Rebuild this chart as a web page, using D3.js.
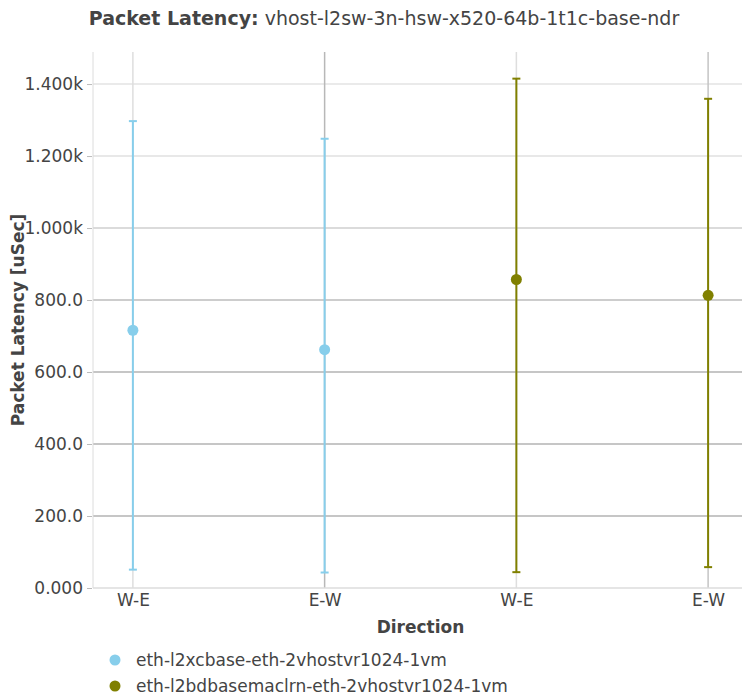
<!DOCTYPE html>
<html>
<head>
<meta charset="utf-8">
<script src="https://cdn.jsdelivr.net/npm/d3@7"></script>
<style>
  body { margin: 0; background: #fff; }
  svg { display: block; font-family: "DejaVu Sans", sans-serif; }
</style>
</head>
<body>
<svg id="chart" width="742" height="700"></svg>
<script>
// ---- data ----
const categories = ["W-E", "E-W", "W-E", "E-W"];
const seriesNames = ["eth-l2xcbase-eth-2vhostvr1024-1vm", "eth-l2bdbasemaclrn-eth-2vhostvr1024-1vm"];
const seriesColors = ["#87CEEB", "#808000"];
// category index positions for each series
const s1Index = [0, 1];
const s1Mean = [716, 662];
const s1Upper = [1297, 1248];
const s1Lower = [51, 43];
const s2Index = [2, 3];
const s2Mean = [857, 813];
const s2Upper = [1415, 1359];
const s2Lower = [44, 58];
const yTickValues = [0, 200, 400, 600, 800, 1000, 1200, 1400];
const yTickLabels = ["0.000", "200.0", "400.0", "600.0", "800.0", "1.000k", "1.200k", "1.400k"];

(function () {
const svg = d3.select("#chart");
const W = 742, H = 700;
const pLeft = 93, pRight = 748, pTop = 52, pBottom = 588;

const x = d3.scaleLinear().domain([-0.208, 3.208]).range([pLeft, pRight]);
const y = d3.scaleLinear().domain([0, 1489]).range([pBottom, pTop]);

const textColor = "#444";
const fontSize = 17;

// horizontal gridlines (rendered colour varies in reference)
const hGridColors = ["#dcdcdc", "#b3b3b3", "#b3b3b3", "#b3b3b3", "#bdbdbd", "#cfcfcf", "#e0e0e0", "#e3e3e3"];
const vGridColors = ["#dedede", "#b8b8b8", "#dedede", "#c4c4c4"];

const grid = svg.append("g");
yTickValues.forEach((v, i) => {
  if (i === 0) return;
  grid.append("line")
    .attr("x1", pLeft).attr("x2", W)
    .attr("y1", y(v)).attr("y2", y(v))
    .attr("stroke", hGridColors[i]).attr("stroke-width", 1.5);
});
categories.forEach((c, i) => {
  grid.append("line")
    .attr("x1", x(i)).attr("x2", x(i))
    .attr("y1", pTop).attr("y2", pBottom)
    .attr("stroke", vGridColors[i]).attr("stroke-width", 1.5);
});

// axes lines
svg.append("line").attr("x1", pLeft).attr("x2", pLeft).attr("y1", pTop).attr("y2", pBottom)
  .attr("stroke", "#dcdcdc").attr("stroke-width", 1);
svg.append("line").attr("x1", pLeft).attr("x2", W).attr("y1", pBottom).attr("y2", pBottom)
  .attr("stroke", "#dcdcdc").attr("stroke-width", 1.5);

// y axis
const yAxis = d3.axisLeft(y).tickValues(yTickValues)
  .tickFormat((d, i) => yTickLabels[i]).tickSize(5).tickPadding(4);
const gy = svg.append("g").attr("transform", `translate(${pLeft - 1},0)`).call(yAxis);
gy.select(".domain").remove();
gy.selectAll(".tick line").attr("stroke", "#bbb");
gy.selectAll(".tick text").attr("fill", textColor).attr("font-size", fontSize)
  .attr("font-family", "DejaVu Sans, sans-serif");

// x axis
const xAxis = d3.axisBottom(x).tickValues(d3.range(categories.length))
  .tickFormat(i => categories[i]).tickSize(0).tickPadding(6);
const gx = svg.append("g").attr("transform", `translate(0,${pBottom})`).call(xAxis);
gx.select(".domain").remove();
gx.selectAll(".tick text").attr("fill", textColor).attr("font-size", fontSize)
  .attr("font-family", "DejaVu Sans, sans-serif");

// error bars + markers
function drawSeries(idx, mean, upper, lower, color) {
  const g = svg.append("g");
  idx.forEach((ci, k) => {
    const cx = x(ci);
    g.append("line").attr("x1", cx).attr("x2", cx)
      .attr("y1", y(lower[k])).attr("y2", y(upper[k]))
      .attr("stroke", color).attr("stroke-width", 2);
    [upper[k], lower[k]].forEach(v => {
      g.append("line").attr("x1", cx - 4).attr("x2", cx + 4)
        .attr("y1", y(v)).attr("y2", y(v))
        .attr("stroke", color).attr("stroke-width", 2);
    });
    g.append("circle").attr("cx", cx).attr("cy", y(mean[k])).attr("r", 5.5)
      .attr("fill", color);
  });
}
drawSeries(s1Index, s1Mean, s1Upper, s1Lower, seriesColors[0]);
drawSeries(s2Index, s2Mean, s2Upper, s2Lower, seriesColors[1]);

// title
const title = svg.append("text").attr("x", 384).attr("y", 25)
  .attr("text-anchor", "middle").attr("font-size", 19).attr("fill", textColor);
title.append("tspan").attr("font-weight", "bold").text("Packet Latency:");
title.append("tspan").text(" vhost-l2sw-3n-hsw-x520-64b-1t1c-base-ndr");

// axis titles
svg.append("text").attr("x", (pLeft + pRight) / 2).attr("y", 633)
  .attr("text-anchor", "middle").attr("font-size", fontSize).attr("font-weight", "bold")
  .attr("fill", textColor).text("Direction");
svg.append("text").attr("transform", `translate(24,${(pTop + pBottom) / 2}) rotate(-90)`)
  .attr("text-anchor", "middle").attr("font-size", fontSize).attr("font-weight", "bold")
  .attr("fill", textColor).text("Packet Latency [uSec]");

// legend
const leg = svg.append("g");
seriesNames.forEach((n, i) => {
  const ly = 660 + i * 26;
  leg.append("circle").attr("cx", 115).attr("cy", ly).attr("r", 5.5).attr("fill", seriesColors[i]);
  leg.append("text").attr("x", 136).attr("y", ly + 6).attr("font-size", fontSize)
    .attr("fill", textColor).text(n);
});
})();
</script>
</body>
</html>
